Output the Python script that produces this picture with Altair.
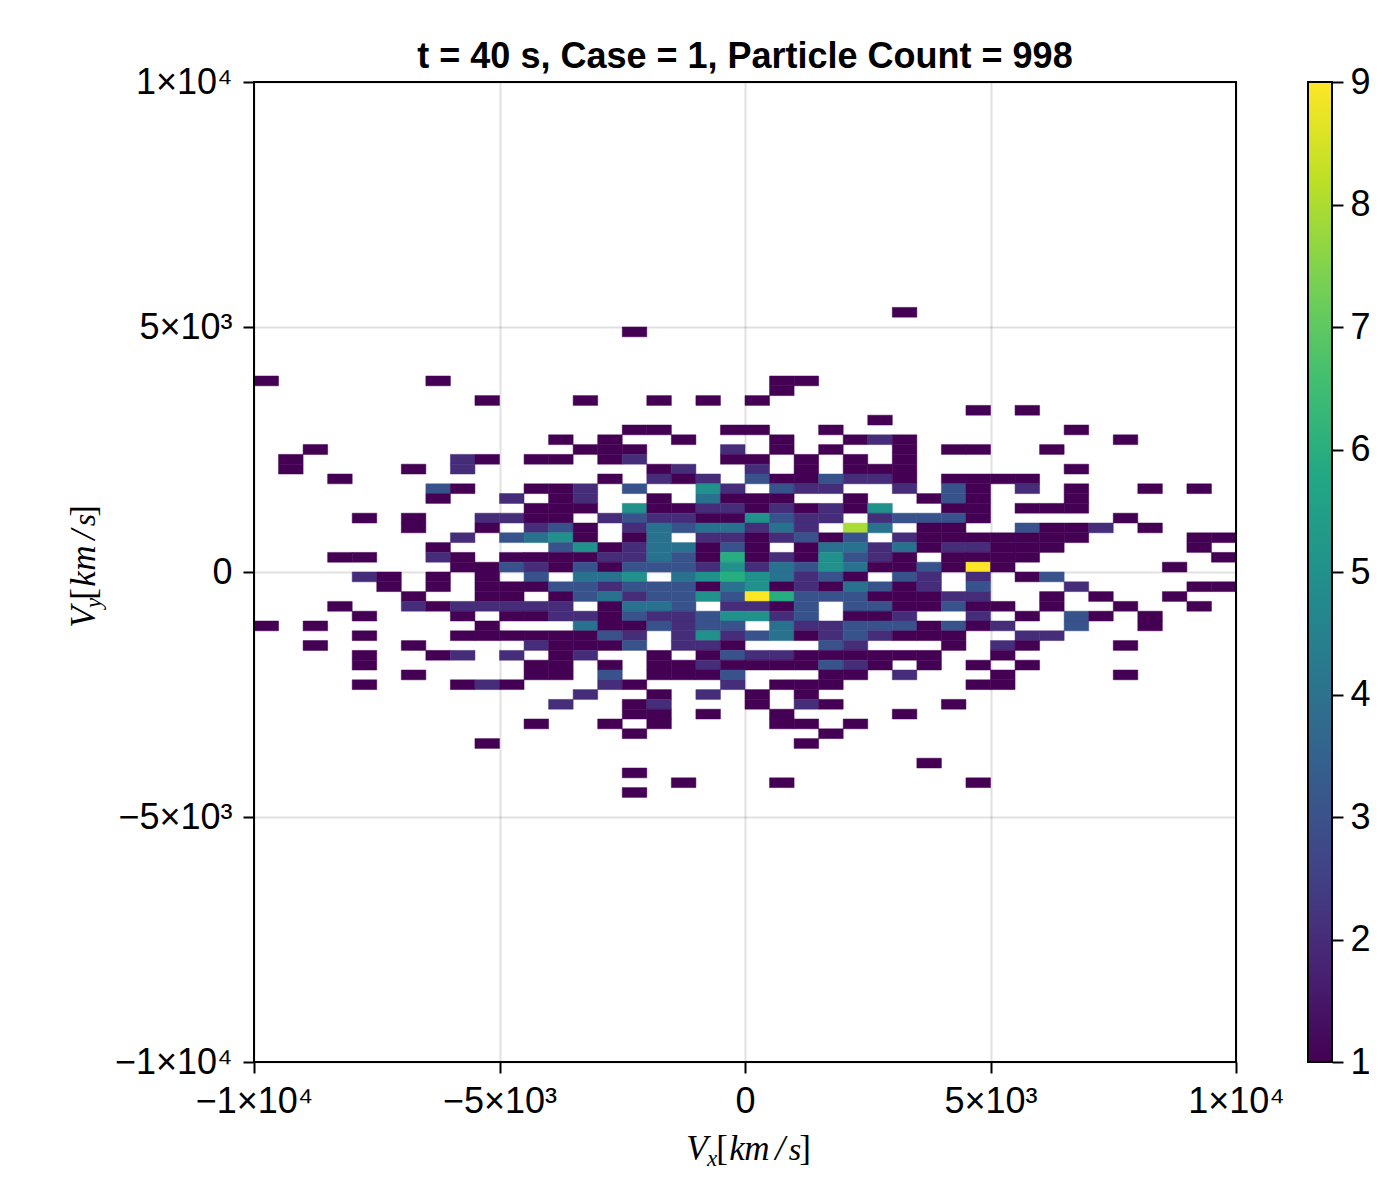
import altair as alt

TITLE = "t = 40 s, Case = 1, Particle Count = 998"
TICK_VALUES = [-10000, -5000, 0, 5000, 10000]
TICK_LABELS = ["−1×10⁴", "−5×10³", "0", "5×10³", "1×10⁴"]
CBAR_TICKS = [1, 2, 3, 4, 5, 6, 7, 8, 9]
BIN_X = 500
BIN_Y = 200

# y bin index (lower edge = index * 200)
ROW_BINS = [26, 24, 19, 18, 17, 16, 15, 14, 13, 12, 11, 10, 9, 8, 7, 6, 5, 4, 3, 2, 1, 0,
            -1, -2, -3, -4, -5, -6, -7, -8, -9, -10, -11, -12, -13, -14, -15, -16, -17, -18,
            -20, -21, -22, -23]
# "x-bin:count" pairs per row; x-bin lower edge = -10000 + index * 500
ROW_CELLS = [
    "26:1",
    "15:1",
    "0:1 7:1 21:1 22:1",
    "21:1",
    "9:1 13:1 16:1 18:1 20:1",
    "29:1 31:1",
    "25:1",
    "15:1 16:1 19:1 20:1 23:1 33:1",
    "12:1 14:1 17:1 21:1 24:1 25:2 26:1 35:1",
    "2:1 13:1 14:1 15:1 19:2 21:1 23:1 26:1 28:1 29:1 32:1",
    "1:1 8:2 9:1 11:1 12:1 14:1 15:2 19:1 20:1 22:1 24:1 26:1",
    "1:1 6:1 8:2 16:1 17:2 20:2 22:1 24:1 25:1 26:1 33:1",
    "3:1 14:1 16:2 17:1 18:2 20:3 21:1 22:1 23:3 24:2 25:2 26:1 28:1 29:1 30:1 31:1",
    "7:3 8:1 11:1 12:1 13:2 15:3 18:5 19:2 21:3 22:2 23:2 26:2 28:3 29:1 31:2 33:1 36:1 38:1",
    "7:1 10:2 12:1 13:2 16:1 18:4 19:1 20:1 21:1 24:1 27:1 28:3 29:1 33:1",
    "11:1 12:1 13:1 15:5 16:1 17:1 18:2 19:2 20:1 21:2 22:1 23:2 24:1 25:5 28:1 29:1 31:1 32:1 33:1",
    "4:1 6:1 9:2 10:2 11:1 12:1 14:2 15:3 16:2 17:2 18:1 19:1 20:5 21:3 22:2 23:2 25:2 26:3 27:3 28:3 29:1 35:1",
    "6:1 9:1 11:2 12:3 13:1 15:2 16:4 17:3 18:4 19:4 20:2 21:4 22:2 24:8 25:4 27:1 28:1 31:3 32:1 33:1 34:2 36:1",
    "8:2 10:3 11:4 12:5 13:1 15:1 16:4 18:2 19:2 20:1 21:2 22:3 23:1 24:3 26:2 27:1 28:1 29:1 30:1 31:1 32:1 33:1 38:1 39:1",
    "7:1 12:3 13:5 14:1 15:2 16:4 17:4 18:1 19:3 20:1 22:1 23:4 24:4 25:2 26:4 27:1 28:2 29:2 30:1 31:1 32:1 38:1",
    "3:1 4:1 7:2 8:1 10:1 11:1 12:1 13:1 14:2 15:2 16:4 17:3 18:1 19:6 20:1 21:2 22:1 23:5 24:3 25:2 26:1 28:1 29:1 30:1 31:1 39:1",
    "8:1 9:1 10:3 11:2 12:1 13:3 14:1 15:3 16:3 17:3 18:2 19:5 20:2 21:4 22:3 23:5 24:4 25:1 26:1 27:3 28:1 29:9 30:1 37:1",
    "4:2 5:1 7:1 9:1 11:3 13:4 14:4 15:5 17:4 18:5 19:6 20:5 21:4 22:2 23:3 24:1 26:3 27:2 29:2 31:1 32:3",
    "5:1 7:1 9:1 10:1 11:1 12:3 13:3 14:2 15:3 16:3 17:3 18:1 19:4 20:5 21:1 22:2 23:1 24:4 25:3 26:1 27:2 29:3 33:2 38:1 39:1",
    "6:1 9:1 10:1 12:1 13:3 14:4 15:2 16:3 17:3 18:5 19:3 20:9 21:6 22:3 23:3 24:3 25:1 26:1 27:1 28:2 29:2 32:1 34:1 37:1",
    "3:1 6:2 7:1 8:2 9:2 10:2 11:2 12:2 14:1 15:4 16:4 17:3 19:2 20:2 21:1 22:3 24:3 25:3 26:1 27:1 28:3 29:1 30:1 32:1 35:1 38:1",
    "4:1 8:1 10:1 11:1 12:2 13:2 14:1 15:3 16:2 17:2 18:3 19:5 20:5 21:2 22:3 24:1 25:1 26:2 29:2 31:1 33:3 34:1 36:1",
    "0:1 2:1 9:1 13:4 14:1 15:1 16:3 17:2 18:3 19:3 21:4 22:2 23:2 24:3 25:3 26:3 27:1 28:3 29:1 30:2 33:3 36:1",
    "4:1 8:1 9:1 10:1 11:1 12:1 13:1 14:3 15:2 17:2 18:5 19:2 20:3 21:4 22:1 23:2 24:3 25:2 26:1 27:1 28:1 31:2 32:2",
    "2:1 6:1 11:2 12:1 13:1 14:1 15:3 17:2 18:2 19:1 23:3 24:2 28:1 30:2 31:1 35:1",
    "4:1 7:1 8:2 10:2 12:1 13:2 16:1 18:1 19:3 20:2 21:2 22:1 23:1 24:1 25:1 26:1 27:1 30:1",
    "4:1 11:1 12:1 14:1 16:1 17:1 18:2 19:1 20:1 21:1 22:1 23:3 24:2 25:1 27:1 29:1 31:1",
    "6:1 11:1 12:1 14:3 16:1 17:1 18:1 19:3 23:1 24:1 26:2 30:1 35:1",
    "4:1 8:1 9:2 10:1 14:2 15:1 19:2 21:1 22:1 23:1 29:1 30:1",
    "13:2 16:1 18:2 20:1 22:1",
    "12:2 15:1 16:2 20:1 22:2 23:1 28:1",
    "15:1 16:1 18:1 21:1 26:1",
    "11:1 14:1 16:1 21:1 22:1 24:1",
    "15:1 23:1",
    "9:1 22:1",
    "27:1",
    "15:1",
    "17:1 21:1 29:1",
    "15:1",
]

VIRIDIS = ["#440154", "#482475", "#414487", "#355f8d", "#2a788e", "#21918c",
           "#22a884", "#44bf70", "#7ad151", "#bddf26", "#fde725"]

records = []
for row, cells in zip(ROW_BINS, ROW_CELLS):
    for cell in cells.split():
        k, v = cell.split(":")
        xl = -10000 + int(k) * BIN_X
        yl = row * BIN_Y
        records.append({"x0": xl, "x1": xl + BIN_X, "y0": yl, "y1": yl + BIN_Y, "n": int(v)})

W, H = 982, 980
FONT = "Liberation Sans"
SERIF = "Liberation Serif"
SIZE = 36

label_expr = " : ".join(f"datum.value == {v} ? '{t}'" for v, t in zip(TICK_VALUES, TICK_LABELS)) + " : ''"


def axis(pad):
    return alt.Axis(values=TICK_VALUES, labelExpr=label_expr, title=None, domain=False,
                    tickSize=11, tickWidth=2, tickColor="black", grid=True, gridColor="black",
                    gridOpacity=0.12, gridWidth=2, labelFont=FONT, labelFontSize=SIZE,
                    labelColor="black", labelPadding=pad, labelOverlap=False, labelFlush=False)


count_scale = alt.Scale(range=VIRIDIS, domain=[1, 9])
cells = alt.Chart(alt.Data(values=records)).mark_rect(opacity=1, strokeWidth=0.5).encode(
    x=alt.X("x0:Q", scale=alt.Scale(domain=[-10000, 10000], nice=False, zero=False), axis=axis(11)),
    x2="x1:Q",
    y=alt.Y("y0:Q", scale=alt.Scale(domain=[-10000, 10000], nice=False, zero=False), axis=axis(11)),
    y2="y1:Q",
    color=alt.Color("n:Q", scale=count_scale, legend=None),
    stroke=alt.Stroke("n:Q", scale=count_scale, legend=None),
)

frame = alt.Chart().mark_rect(filled=False, stroke="black", strokeWidth=2).encode(
    x=alt.value(0), x2=alt.value(W), y=alt.value(0), y2=alt.value(H)
)


def glyph(text, px, py, size, italic, angle=0):
    m = {"text": text, "font": SERIF, "fontSize": size, "align": "center", "baseline": "alphabetic",
         "color": "black", "angle": angle}
    if italic:
        m["fontStyle"] = "italic"
    return alt.Chart().mark_text(**m).encode(x=alt.value(px - 254), y=alt.value(py - 82))


XB = 1160
xt = [("V", 697, XB, 35, True), ("x", 712, XB + 6, 23, True), ("[", 722, XB, 35, False),
      ("k", 737, XB, 35, True), ("m", 757, XB, 35, True), ("/", 780, XB, 35, True),
      ("s", 795, XB, 32, True), ("]", 805, XB, 35, False)]
YB = 95
yt = [("V", YB, 617, 35, True), ("y", YB + 6, 603, 23, True), ("[", YB, 594, 35, False),
      ("k", YB, 579, 35, True), ("m", YB, 558, 35, True), ("/", YB, 535, 35, True),
      ("s", YB, 520, 32, True), ("]", YB, 511, 35, False)]
glyphs = [glyph(t, x, y, s, i) for t, x, y, s, i in xt] + \
         [glyph(t, x, y, s, i, angle=270) for t, x, y, s, i in yt]

main = alt.layer(cells, frame, *glyphs).properties(
    width=W, height=H,
    title=alt.TitleParams(TITLE, font=FONT, fontSize=SIZE, fontWeight="bold", color="black",
                          anchor="middle", offset=-12),
)

grad = alt.Gradient(gradient="linear", x1=0, x2=0, y1=1, y2=0,
                    stops=[alt.GradientStop(color=c, offset=i / (len(VIRIDIS) - 1)) for i, c in enumerate(VIRIDIS)])

bar = alt.Chart(alt.Data(values=[{"a": CBAR_TICKS[0], "b": CBAR_TICKS[-1]}])).mark_rect(fill=grad).encode(
    y=alt.Y("a:Q", scale=alt.Scale(domain=[1, 9], nice=False, zero=False),
            axis=alt.Axis(orient="right", values=CBAR_TICKS, title=None, domain=False, grid=False,
                          tickSize=11, tickWidth=2, tickColor="black", labelFont=FONT,
                          labelFontSize=SIZE, labelColor="black", labelPadding=7, format="d")),
    y2="b:Q",
)
bar_frame = alt.Chart().mark_rect(filled=False, stroke="black", strokeWidth=2).encode(
    x=alt.value(0), x2=alt.value(24), y=alt.value(0), y2=alt.value(H)
)
colorbar = alt.layer(bar, bar_frame).properties(width=24, height=H)

chart = alt.hconcat(main, colorbar, spacing=72, bounds="flush").configure_view(stroke=None).properties(
    background="white", padding={"left": 59, "top": 31, "right": 5, "bottom": 5}
)

chart.save("out.html", embed_options={"renderer": "svg", "actions": False})
